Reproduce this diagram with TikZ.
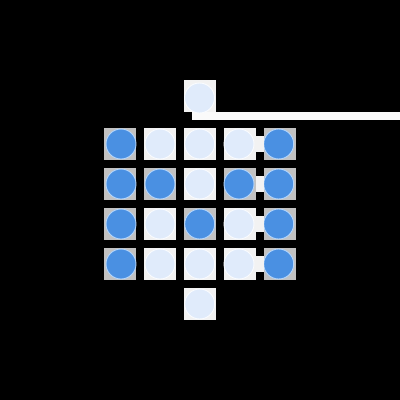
\documentclass[tikz,border=0pt]{standalone}
\definecolor{cellL}{HTML}{F2F2F2}
\definecolor{cellD}{HTML}{C2C2C2}
\definecolor{fillL}{HTML}{E0EBFB}
\definecolor{fillD}{HTML}{4A90E2}
\definecolor{ringL}{HTML}{FAFCFF}
\definecolor{ringD}{HTML}{B4D6FC}
\tikzset{x=1pt,y=-1pt,
  cell/.style={minimum size=32pt,inner sep=0pt,outer sep=0pt,draw=none},
  lightcell/.style={cell,fill=cellL},
  darkcell/.style={cell,fill=cellD},
  lightdot/.style={circle,minimum size=30pt,inner sep=0pt,outer sep=0pt,fill=fillL,draw=ringL,line width=.9pt},
  darkdot/.style={circle,minimum size=30pt,inner sep=0pt,outer sep=0pt,fill=fillD,draw=ringD,line width=.9pt},
  linkbar/.style={cellL,line width=16pt},
  wire/.style={white!98!black,line width=8pt}}
% #1 name, #2 cell x, #3 cell y, #4 dot x, #5 dot y
\newcommand{\lit}[5]{\node[lightcell] (c#1) at (#2,#3) {};\node[lightdot] (d#1) at (#4,#5) {};}
\newcommand{\drk}[5]{\node[darkcell] (c#1) at (#2,#3) {};\node[darkdot] (d#1) at (#4,#5) {};}
\begin{document}
\begin{tikzpicture}
\fill[black] (0,0) rectangle (400,400);
\useasboundingbox (0,0) rectangle (400,400);
\coordinate (wireend) at (400,116);
\coordinate (wirestart) at (192,116);
\draw[wire] (wirestart) -- (wireend);
\lit{t}{200}{96}{199.5}{98}
\drk{a}{120}{144}{121}{144}\lit{b}{160}{144}{160}{144}\lit{c}{200}{144}{199.7}{144}\lit{d}{240}{144}{239}{144}\drk{e}{280}{144}{278.7}{144}
\drk{f}{120}{184}{121}{184}\drk{g}{160}{184}{160}{184}\lit{h}{200}{184}{199.7}{184}\drk{i}{240}{184}{239}{184}\drk{j}{280}{184}{278.7}{184}
\drk{k}{120}{224}{121}{224}\lit{l}{160}{224}{160}{224}\drk{m}{200}{224}{199.7}{224}\lit{n}{240}{224}{239}{224}\drk{o}{280}{224}{278.7}{224}
\drk{p}{120}{264}{121}{264}\lit{q}{160}{264}{160}{264}\lit{r}{200}{264}{199.7}{264}\lit{s}{240}{264}{239}{264}\drk{u}{280}{264}{278.7}{264}
\lit{z}{200}{304}{199.7}{304}
\draw[linkbar] (cd.east) -- (ce.west);
\draw[linkbar] (ci.east) -- (cj.west);
\draw[linkbar] (cn.east) -- (co.west);
\draw[linkbar] (cs.east) -- (cu.west);
\end{tikzpicture}
\end{document}
